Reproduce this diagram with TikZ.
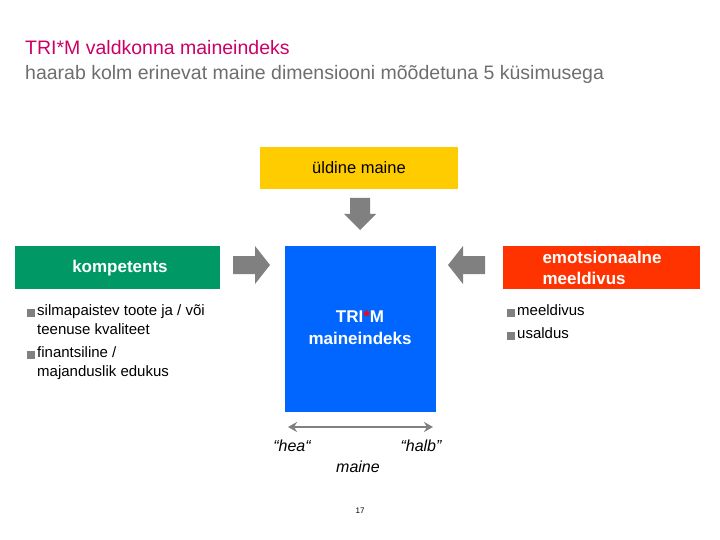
\documentclass[tikz,border=0pt]{standalone}
\usepackage{fontspec}
\setmainfont{Liberation Sans}
\usetikzlibrary{arrows.meta}
\definecolor{mag}{RGB}{204,0,102}
\definecolor{tgray}{RGB}{110,110,110}
\definecolor{agray}{RGB}{128,128,128}
\definecolor{ygold}{RGB}{255,204,0}
\definecolor{grn}{RGB}{0,153,102}
\definecolor{blu}{RGB}{0,102,255}
\definecolor{org}{RGB}{255,51,0}
\begin{document}
\begin{tikzpicture}[x=1pt,y=-1pt,
  bul/.style={anchor=west,align=left,font=\fontsize{15}{19}\selectfont,text=black,inner sep=0pt},
  sq/.style={fill=agray,minimum size=8pt,inner sep=0pt},
  itx/.style={font=\itshape\fontsize{16}{18}\selectfont}]
\useasboundingbox (0,0) rectangle (720,540);
\node[anchor=base west,text=mag,font=\fontsize{19.5}{22}\selectfont,inner sep=0pt] (t1) at (25,55) {TRI*M valdkonna maineindeks};
\node[anchor=base west,text=tgray,font=\fontsize{19.5}{22}\selectfont,inner sep=0pt] (t2) at (25,80) {haarab kolm erinevat maine dimensiooni mõõdetuna 5 küsimusega};
\fill[ygold] (260,147) rectangle (458,189);
\node (yb) at (359,168) {\fontsize{16.5}{18}\selectfont üldine maine};
\fill[grn] (15,246) rectangle (220,289);
\node[text=white] (gb) at (120,268) {\fontsize{17}{19}\selectfont\bfseries kompetents};
\fill[blu] (285,246) rectangle (436,412);
\node[text=white,align=center,font=\fontsize{17}{22}\selectfont\bfseries] (bb) at (360,328) {TRI\textcolor{red}{*}M\\maineindeks};
\fill[org] (503,246) rectangle (700,289);
\node[text=white,align=left,anchor=west,font=\fontsize{17}{21}\selectfont\bfseries] (rb) at (539,268) {emotsionaalne\\meeldivus};
% fat arrows
\fill[agray] (350,198) -- (370,198) -- (370,214) -- (376,214) -- (360,230) -- (344,214) -- (350,214) -- cycle;
\fill[agray] (233,256) -- (255,256) -- (255,246) -- (270,265) -- (255,284) -- (255,274) -- (233,274) -- cycle;
\fill[agray] (485,256) -- (463,256) -- (463,246) -- (448,265) -- (463,284) -- (463,274) -- (485,274) -- cycle;
\coordinate (dl) at (288,427);
\coordinate (dr) at (433,427);
\draw[agray,line width=2.5pt,{Stealth[length=9pt,width=10pt]}-{Stealth[length=9pt,width=10pt]}] (dl) -- (dr);
\node[itx] (hea) at (292,446) {“hea“};
\node[itx] (halb) at (421,446) {“halb”};
\node[itx] (mn) at (358,467) {maine};
\node[font=\fontsize{8}{9}\selectfont] (pg) at (360,511) {17};
\node[sq] (s1) at (31,313) {};
\node[bul,anchor=north west] (b1) at (37,304) {silmapaistev toote ja / või\\teenuse kvaliteet};
\node[sq] (s2) at (31,355) {};
\node[bul,anchor=north west] (b2) at (37,346) {finantsiline /\\majanduslik edukus};
\node[sq] (s3) at (511,313) {};
\node[bul,anchor=north west] (b3) at (517,304) {meeldivus};
\node[sq] (s4) at (511,336) {};
\node[bul,anchor=north west] (b4) at (517,327) {usaldus};
\end{tikzpicture}
\end{document}
